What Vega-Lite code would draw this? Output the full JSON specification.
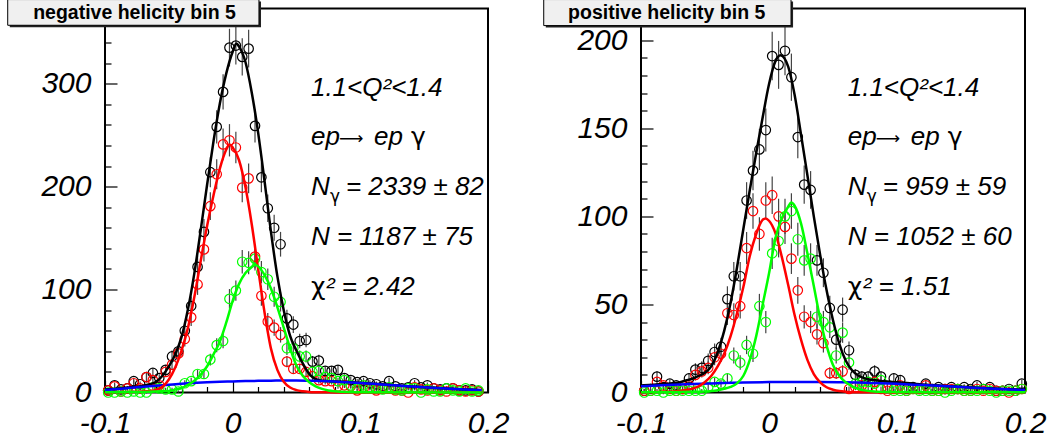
{
"$schema": "https://vega.github.io/schema/vega-lite/v6.json",
"background": "white",
"padding": {"left": 6, "top": -2.5, "right": 0, "bottom": 0},
"spacing": 32,
"config": {"view": {"stroke": "#000", "strokeWidth": 2}, "font": "Liberation Sans"},
"datasets": {
"pts": [
{"p":"L","s":"k","x":-0.0975,"y":2,"e":1.4},{"p":"L","s":"k","x":-0.0925,"y":7,"e":2.6},{"p":"L","s":"k","x":-0.0875,"y":3,"e":1.7},{"p":"L","s":"k","x":-0.0825,"y":4,"e":2},{"p":"L","s":"k","x":-0.0775,"y":11,"e":3.3},{"p":"L","s":"k","x":-0.0725,"y":8,"e":2.8},{"p":"L","s":"k","x":-0.0675,"y":15,"e":3.9},{"p":"L","s":"k","x":-0.0625,"y":19,"e":4.4},{"p":"L","s":"k","x":-0.0575,"y":14,"e":3.7},{"p":"L","s":"k","x":-0.0525,"y":22,"e":4.7},
{"p":"L","s":"k","x":-0.0475,"y":35,"e":5.9},{"p":"L","s":"k","x":-0.0425,"y":40,"e":6.3},{"p":"L","s":"k","x":-0.0375,"y":60,"e":7.7},{"p":"L","s":"k","x":-0.0325,"y":84,"e":9.2},{"p":"L","s":"k","x":-0.0275,"y":122,"e":11},{"p":"L","s":"k","x":-0.0225,"y":156,"e":12.5},{"p":"L","s":"k","x":-0.0175,"y":214,"e":14.6},{"p":"L","s":"k","x":-0.0125,"y":258,"e":16.1},{"p":"L","s":"k","x":-0.0075,"y":292,"e":17.1},{"p":"L","s":"k","x":-0.0025,"y":335,"e":18.3},
{"p":"L","s":"k","x":0.0025,"y":337,"e":18.4},{"p":"L","s":"k","x":0.0075,"y":326,"e":18.1},{"p":"L","s":"k","x":0.0125,"y":334,"e":18.3},{"p":"L","s":"k","x":0.0175,"y":259,"e":16.1},{"p":"L","s":"k","x":0.0225,"y":209,"e":14.5},{"p":"L","s":"k","x":0.0275,"y":179,"e":13.4},{"p":"L","s":"k","x":0.0325,"y":160,"e":12.6},{"p":"L","s":"k","x":0.0375,"y":144,"e":12},{"p":"L","s":"k","x":0.0425,"y":72,"e":8.5},{"p":"L","s":"k","x":0.0475,"y":66,"e":8.1},
{"p":"L","s":"k","x":0.0525,"y":50,"e":7.1},{"p":"L","s":"k","x":0.0575,"y":51,"e":7.1},{"p":"L","s":"k","x":0.0625,"y":30,"e":5.5},{"p":"L","s":"k","x":0.0675,"y":31,"e":5.6},{"p":"L","s":"k","x":0.0725,"y":21,"e":4.6},{"p":"L","s":"k","x":0.0775,"y":21,"e":4.6},{"p":"L","s":"k","x":0.0825,"y":22,"e":4.7},{"p":"L","s":"k","x":0.0875,"y":14,"e":3.7},{"p":"L","s":"k","x":0.0925,"y":12,"e":3.5},{"p":"L","s":"k","x":0.0975,"y":10,"e":3.2},
{"p":"L","s":"k","x":0.1025,"y":11,"e":3.3},{"p":"L","s":"k","x":0.1075,"y":9,"e":3},{"p":"L","s":"k","x":0.1125,"y":8,"e":2.8},{"p":"L","s":"k","x":0.1175,"y":6,"e":2.4},{"p":"L","s":"k","x":0.1225,"y":11,"e":3.3},{"p":"L","s":"k","x":0.1275,"y":6,"e":2.4},{"p":"L","s":"k","x":0.1325,"y":4,"e":2},{"p":"L","s":"k","x":0.1375,"y":5,"e":2.2},{"p":"L","s":"k","x":0.1425,"y":9,"e":3},{"p":"L","s":"k","x":0.1475,"y":5,"e":2.2},
{"p":"L","s":"k","x":0.1525,"y":7,"e":2.6},{"p":"L","s":"k","x":0.1575,"y":4,"e":2},{"p":"L","s":"k","x":0.1625,"y":3,"e":1.7},{"p":"L","s":"k","x":0.1675,"y":4,"e":2},{"p":"L","s":"k","x":0.1725,"y":4,"e":2},{"p":"L","s":"k","x":0.1775,"y":2,"e":1.4},{"p":"L","s":"k","x":0.1825,"y":2,"e":1.4},{"p":"L","s":"k","x":0.1875,"y":3,"e":1.7},{"p":"L","s":"k","x":0.1925,"y":1,"e":1},
{"p":"L","s":"r","x":-0.0975,"y":2,"e":1.4},{"p":"L","s":"r","x":-0.0925,"y":6,"e":2.4},{"p":"L","s":"r","x":-0.0875,"y":1,"e":1},{"p":"L","s":"r","x":-0.0825,"y":4,"e":2},{"p":"L","s":"r","x":-0.0775,"y":9,"e":3},{"p":"L","s":"r","x":-0.0725,"y":4,"e":2},{"p":"L","s":"r","x":-0.0675,"y":15,"e":3.9},{"p":"L","s":"r","x":-0.0625,"y":12,"e":3.5},{"p":"L","s":"r","x":-0.0575,"y":7,"e":2.6},{"p":"L","s":"r","x":-0.0525,"y":20,"e":4.5},
{"p":"L","s":"r","x":-0.0475,"y":27,"e":5.2},{"p":"L","s":"r","x":-0.0425,"y":38,"e":6.2},{"p":"L","s":"r","x":-0.0375,"y":52,"e":7.2},{"p":"L","s":"r","x":-0.0325,"y":73,"e":8.5},{"p":"L","s":"r","x":-0.0275,"y":105,"e":10.2},{"p":"L","s":"r","x":-0.0225,"y":139,"e":11.8},{"p":"L","s":"r","x":-0.0175,"y":181,"e":13.5},{"p":"L","s":"r","x":-0.0125,"y":212,"e":14.6},{"p":"L","s":"r","x":-0.0075,"y":241,"e":15.5},{"p":"L","s":"r","x":-0.0025,"y":245,"e":15.7},
{"p":"L","s":"r","x":0.0025,"y":238,"e":15.4},{"p":"L","s":"r","x":0.0075,"y":199,"e":14.1},{"p":"L","s":"r","x":0.0125,"y":208,"e":14.4},{"p":"L","s":"r","x":0.0175,"y":132,"e":11.5},{"p":"L","s":"r","x":0.0225,"y":94,"e":9.7},{"p":"L","s":"r","x":0.0275,"y":69,"e":8.3},{"p":"L","s":"r","x":0.0325,"y":63,"e":7.9},{"p":"L","s":"r","x":0.0375,"y":56,"e":7.5},{"p":"L","s":"r","x":0.0425,"y":30,"e":5.5},{"p":"L","s":"r","x":0.0475,"y":23,"e":4.8},
{"p":"L","s":"r","x":0.0525,"y":23,"e":4.8},{"p":"L","s":"r","x":0.0575,"y":20,"e":4.5},{"p":"L","s":"r","x":0.0625,"y":16,"e":4},{"p":"L","s":"r","x":0.0675,"y":12,"e":3.5},{"p":"L","s":"r","x":0.0725,"y":11,"e":3.3},{"p":"L","s":"r","x":0.0775,"y":11,"e":3.3},{"p":"L","s":"r","x":0.0825,"y":6,"e":2.4},{"p":"L","s":"r","x":0.0875,"y":7,"e":2.6},{"p":"L","s":"r","x":0.0925,"y":6,"e":2.4},{"p":"L","s":"r","x":0.0975,"y":2,"e":1.4},
{"p":"L","s":"r","x":0.1025,"y":4,"e":2},{"p":"L","s":"r","x":0.1075,"y":4,"e":2},{"p":"L","s":"r","x":0.1125,"y":2,"e":1.4},{"p":"L","s":"r","x":0.1175,"y":4,"e":2},{"p":"L","s":"r","x":0.1225,"y":4,"e":2},{"p":"L","s":"r","x":0.1275,"y":2,"e":1.4},{"p":"L","s":"r","x":0.1325,"y":2,"e":1.4},{"p":"L","s":"r","x":0.1375,"y":0,"e":0},{"p":"L","s":"r","x":0.1425,"y":5,"e":2.2},{"p":"L","s":"r","x":0.1475,"y":3,"e":1.7},
{"p":"L","s":"r","x":0.1525,"y":2,"e":1.4},{"p":"L","s":"r","x":0.1575,"y":4,"e":2},{"p":"L","s":"r","x":0.1625,"y":2,"e":1.4},{"p":"L","s":"r","x":0.1675,"y":1,"e":1},{"p":"L","s":"r","x":0.1725,"y":4,"e":2},{"p":"L","s":"r","x":0.1775,"y":2,"e":1.4},{"p":"L","s":"r","x":0.1825,"y":1,"e":1},{"p":"L","s":"r","x":0.1875,"y":2,"e":1.4},{"p":"L","s":"r","x":0.1925,"y":1,"e":1},
{"p":"L","s":"g","x":-0.0975,"y":0,"e":1},{"p":"L","s":"g","x":-0.0925,"y":0,"e":1},{"p":"L","s":"g","x":-0.0875,"y":1,"e":1},{"p":"L","s":"g","x":-0.0825,"y":0,"e":1},{"p":"L","s":"g","x":-0.0775,"y":1,"e":1},{"p":"L","s":"g","x":-0.0725,"y":0,"e":1},{"p":"L","s":"g","x":-0.0675,"y":0,"e":1},{"p":"L","s":"g","x":-0.0625,"y":5,"e":2.2},{"p":"L","s":"g","x":-0.0575,"y":4,"e":2},{"p":"L","s":"g","x":-0.0525,"y":3,"e":1.7},
{"p":"L","s":"g","x":-0.0475,"y":3,"e":1.7},{"p":"L","s":"g","x":-0.0425,"y":1,"e":1},{"p":"L","s":"g","x":-0.0375,"y":9,"e":3},{"p":"L","s":"g","x":-0.0325,"y":11,"e":3.3},{"p":"L","s":"g","x":-0.0275,"y":18,"e":4.2},{"p":"L","s":"g","x":-0.0225,"y":18,"e":4.2},{"p":"L","s":"g","x":-0.0175,"y":32,"e":5.7},{"p":"L","s":"g","x":-0.0125,"y":46,"e":6.8},{"p":"L","s":"g","x":-0.0075,"y":50,"e":7.1},{"p":"L","s":"g","x":-0.0025,"y":91,"e":9.5},
{"p":"L","s":"g","x":0.0025,"y":99,"e":9.9},{"p":"L","s":"g","x":0.0075,"y":127,"e":11.3},{"p":"L","s":"g","x":0.0125,"y":126,"e":11.2},{"p":"L","s":"g","x":0.0175,"y":130,"e":11.4},{"p":"L","s":"g","x":0.0225,"y":117,"e":10.8},{"p":"L","s":"g","x":0.0275,"y":110,"e":10.5},{"p":"L","s":"g","x":0.0325,"y":93,"e":9.6},{"p":"L","s":"g","x":0.0375,"y":88,"e":9.4},{"p":"L","s":"g","x":0.0425,"y":43,"e":6.6},{"p":"L","s":"g","x":0.0475,"y":43,"e":6.6},
{"p":"L","s":"g","x":0.0525,"y":35,"e":5.9},{"p":"L","s":"g","x":0.0575,"y":35,"e":5.9},{"p":"L","s":"g","x":0.0625,"y":20,"e":4.5},{"p":"L","s":"g","x":0.0675,"y":21,"e":4.6},{"p":"L","s":"g","x":0.0725,"y":15,"e":3.9},{"p":"L","s":"g","x":0.0775,"y":14,"e":3.7},{"p":"L","s":"g","x":0.0825,"y":11,"e":3.3},{"p":"L","s":"g","x":0.0875,"y":12,"e":3.5},{"p":"L","s":"g","x":0.0925,"y":7,"e":2.6},{"p":"L","s":"g","x":0.0975,"y":4,"e":2},
{"p":"L","s":"g","x":0.1025,"y":7,"e":2.6},{"p":"L","s":"g","x":0.1075,"y":5,"e":2.2},{"p":"L","s":"g","x":0.1125,"y":4,"e":2},{"p":"L","s":"g","x":0.1175,"y":3,"e":1.7},{"p":"L","s":"g","x":0.1225,"y":5,"e":2.2},{"p":"L","s":"g","x":0.1275,"y":3,"e":1.7},{"p":"L","s":"g","x":0.1325,"y":2,"e":1.4},{"p":"L","s":"g","x":0.1375,"y":4,"e":2},{"p":"L","s":"g","x":0.1425,"y":4,"e":2},{"p":"L","s":"g","x":0.1475,"y":0,"e":1},
{"p":"L","s":"g","x":0.1525,"y":3,"e":1.7},{"p":"L","s":"g","x":0.1575,"y":1,"e":1},{"p":"L","s":"g","x":0.1625,"y":1,"e":1},{"p":"L","s":"g","x":0.1675,"y":4,"e":2},{"p":"L","s":"g","x":0.1725,"y":2,"e":1.4},{"p":"L","s":"g","x":0.1775,"y":1,"e":1},{"p":"L","s":"g","x":0.1825,"y":4,"e":2},{"p":"L","s":"g","x":0.1875,"y":1,"e":1},{"p":"L","s":"g","x":0.1925,"y":2,"e":1.4},
{"p":"R","s":"k","x":-0.0975,"y":1,"e":1},{"p":"R","s":"k","x":-0.0925,"y":2,"e":1.4},{"p":"R","s":"k","x":-0.0875,"y":9,"e":3},{"p":"R","s":"k","x":-0.0825,"y":3,"e":1.7},{"p":"R","s":"k","x":-0.0775,"y":5,"e":2.2},{"p":"R","s":"k","x":-0.0725,"y":4,"e":2},{"p":"R","s":"k","x":-0.0675,"y":2,"e":1.4},{"p":"R","s":"k","x":-0.0625,"y":8,"e":2.8},{"p":"R","s":"k","x":-0.0575,"y":13,"e":3.6},{"p":"R","s":"k","x":-0.0525,"y":14,"e":3.7},
{"p":"R","s":"k","x":-0.0475,"y":18,"e":4.2},{"p":"R","s":"k","x":-0.0425,"y":23,"e":4.8},{"p":"R","s":"k","x":-0.0375,"y":26,"e":5.1},{"p":"R","s":"k","x":-0.0325,"y":53,"e":7.3},{"p":"R","s":"k","x":-0.0275,"y":66,"e":8.1},{"p":"R","s":"k","x":-0.0225,"y":66,"e":8.1},{"p":"R","s":"k","x":-0.0175,"y":109,"e":10.4},{"p":"R","s":"k","x":-0.0125,"y":126,"e":11.2},{"p":"R","s":"k","x":-0.0075,"y":138,"e":11.7},{"p":"R","s":"k","x":-0.0025,"y":149,"e":12.2},
{"p":"R","s":"k","x":0.0025,"y":191,"e":13.8},{"p":"R","s":"k","x":0.0075,"y":186,"e":13.6},{"p":"R","s":"k","x":0.0125,"y":194,"e":13.9},{"p":"R","s":"k","x":0.0175,"y":179,"e":13.4},{"p":"R","s":"k","x":0.0225,"y":145,"e":12},{"p":"R","s":"k","x":0.0275,"y":118,"e":10.9},{"p":"R","s":"k","x":0.0325,"y":115,"e":10.7},{"p":"R","s":"k","x":0.0375,"y":75,"e":8.7},{"p":"R","s":"k","x":0.0425,"y":68,"e":8.2},{"p":"R","s":"k","x":0.0475,"y":48,"e":6.9},
{"p":"R","s":"k","x":0.0525,"y":30,"e":5.5},{"p":"R","s":"k","x":0.0575,"y":47,"e":6.9},{"p":"R","s":"k","x":0.0625,"y":24,"e":4.9},{"p":"R","s":"k","x":0.0675,"y":10,"e":3.2},{"p":"R","s":"k","x":0.0725,"y":9,"e":3},{"p":"R","s":"k","x":0.0775,"y":9,"e":3},{"p":"R","s":"k","x":0.0825,"y":12,"e":3.5},{"p":"R","s":"k","x":0.0875,"y":9,"e":3},{"p":"R","s":"k","x":0.0925,"y":3,"e":1.7},{"p":"R","s":"k","x":0.0975,"y":8,"e":2.8},
{"p":"R","s":"k","x":0.1025,"y":7,"e":2.6},{"p":"R","s":"k","x":0.1075,"y":2,"e":1.4},{"p":"R","s":"k","x":0.1125,"y":3,"e":1.7},{"p":"R","s":"k","x":0.1175,"y":2,"e":1.4},{"p":"R","s":"k","x":0.1225,"y":5,"e":2.2},{"p":"R","s":"k","x":0.1275,"y":2,"e":1.4},{"p":"R","s":"k","x":0.1325,"y":3,"e":1.7},{"p":"R","s":"k","x":0.1375,"y":2,"e":1.4},{"p":"R","s":"k","x":0.1425,"y":3,"e":1.7},{"p":"R","s":"k","x":0.1475,"y":2,"e":1.4},
{"p":"R","s":"k","x":0.1525,"y":3,"e":1.7},{"p":"R","s":"k","x":0.1575,"y":2,"e":1.4},{"p":"R","s":"k","x":0.1625,"y":4,"e":2},{"p":"R","s":"k","x":0.1675,"y":2,"e":1.4},{"p":"R","s":"k","x":0.1725,"y":3,"e":1.7},{"p":"R","s":"k","x":0.1775,"y":1,"e":1},{"p":"R","s":"k","x":0.1825,"y":1,"e":1},{"p":"R","s":"k","x":0.1875,"y":2,"e":1.4},{"p":"R","s":"k","x":0.1925,"y":1,"e":1},{"p":"R","s":"k","x":0.1975,"y":5,"e":2.2},
{"p":"R","s":"r","x":-0.0975,"y":1,"e":1},{"p":"R","s":"r","x":-0.0925,"y":1,"e":1},{"p":"R","s":"r","x":-0.0875,"y":6,"e":2.4},{"p":"R","s":"r","x":-0.0825,"y":4,"e":2},{"p":"R","s":"r","x":-0.0775,"y":2,"e":1.4},{"p":"R","s":"r","x":-0.0725,"y":1,"e":1},{"p":"R","s":"r","x":-0.0675,"y":2,"e":1.4},{"p":"R","s":"r","x":-0.0625,"y":4,"e":2},{"p":"R","s":"r","x":-0.0575,"y":10,"e":3.2},{"p":"R","s":"r","x":-0.0525,"y":12,"e":3.5},
{"p":"R","s":"r","x":-0.0475,"y":14,"e":3.7},{"p":"R","s":"r","x":-0.0425,"y":20,"e":4.5},{"p":"R","s":"r","x":-0.0375,"y":22,"e":4.7},{"p":"R","s":"r","x":-0.0325,"y":45,"e":6.7},{"p":"R","s":"r","x":-0.0275,"y":44,"e":6.6},{"p":"R","s":"r","x":-0.0225,"y":49,"e":7},{"p":"R","s":"r","x":-0.0175,"y":82,"e":9.1},{"p":"R","s":"r","x":-0.0125,"y":103,"e":10.1},{"p":"R","s":"r","x":-0.0075,"y":90,"e":9.5},{"p":"R","s":"r","x":-0.0025,"y":109,"e":10.4},
{"p":"R","s":"r","x":0.0025,"y":112,"e":10.6},{"p":"R","s":"r","x":0.0075,"y":100,"e":10},{"p":"R","s":"r","x":0.0125,"y":94,"e":9.7},{"p":"R","s":"r","x":0.0175,"y":76,"e":8.7},{"p":"R","s":"r","x":0.0225,"y":58,"e":7.6},{"p":"R","s":"r","x":0.0275,"y":43,"e":6.6},{"p":"R","s":"r","x":0.0325,"y":40,"e":6.3},{"p":"R","s":"r","x":0.0375,"y":33,"e":5.7},{"p":"R","s":"r","x":0.0425,"y":28,"e":5.3},{"p":"R","s":"r","x":0.0475,"y":11,"e":3.3},
{"p":"R","s":"r","x":0.0525,"y":11,"e":3.3},{"p":"R","s":"r","x":0.0575,"y":12,"e":3.5},{"p":"R","s":"r","x":0.0625,"y":2,"e":1.4},{"p":"R","s":"r","x":0.0675,"y":3,"e":1.7},{"p":"R","s":"r","x":0.0725,"y":4,"e":2},{"p":"R","s":"r","x":0.0775,"y":3,"e":1.7},{"p":"R","s":"r","x":0.0825,"y":6,"e":2.4},{"p":"R","s":"r","x":0.0875,"y":2,"e":1.4},{"p":"R","s":"r","x":0.0925,"y":1,"e":1},{"p":"R","s":"r","x":0.0975,"y":2,"e":1.4},
{"p":"R","s":"r","x":0.1025,"y":4,"e":2},{"p":"R","s":"r","x":0.1075,"y":1,"e":1},{"p":"R","s":"r","x":0.1125,"y":2,"e":1.4},{"p":"R","s":"r","x":0.1175,"y":2,"e":1.4},{"p":"R","s":"r","x":0.1225,"y":4,"e":2},{"p":"R","s":"r","x":0.1275,"y":1,"e":1},{"p":"R","s":"r","x":0.1325,"y":1,"e":1},{"p":"R","s":"r","x":0.1375,"y":2,"e":1.4},{"p":"R","s":"r","x":0.1425,"y":2,"e":1.4},{"p":"R","s":"r","x":0.1475,"y":2,"e":1.4},
{"p":"R","s":"r","x":0.1525,"y":1,"e":1},{"p":"R","s":"r","x":0.1575,"y":1,"e":1},{"p":"R","s":"r","x":0.1625,"y":2,"e":1.4},{"p":"R","s":"r","x":0.1675,"y":1,"e":1},{"p":"R","s":"r","x":0.1725,"y":2,"e":1.4},{"p":"R","s":"r","x":0.1775,"y":1,"e":1},{"p":"R","s":"r","x":0.1825,"y":1,"e":1},{"p":"R","s":"r","x":0.1875,"y":0,"e":0},{"p":"R","s":"r","x":0.1925,"y":1,"e":1},{"p":"R","s":"r","x":0.1975,"y":2,"e":1.4},
{"p":"R","s":"g","x":-0.0975,"y":0,"e":1},{"p":"R","s":"g","x":-0.0925,"y":1,"e":1},{"p":"R","s":"g","x":-0.0875,"y":1,"e":1},{"p":"R","s":"g","x":-0.0825,"y":0,"e":1},{"p":"R","s":"g","x":-0.0775,"y":1,"e":1},{"p":"R","s":"g","x":-0.0725,"y":1,"e":1},{"p":"R","s":"g","x":-0.0675,"y":1,"e":1},{"p":"R","s":"g","x":-0.0625,"y":1,"e":1},{"p":"R","s":"g","x":-0.0575,"y":1,"e":1},{"p":"R","s":"g","x":-0.0525,"y":1,"e":1},
{"p":"R","s":"g","x":-0.0475,"y":3,"e":1.7},{"p":"R","s":"g","x":-0.0425,"y":6,"e":2.4},{"p":"R","s":"g","x":-0.0375,"y":5,"e":2.2},{"p":"R","s":"g","x":-0.0325,"y":8,"e":2.8},{"p":"R","s":"g","x":-0.0275,"y":21,"e":4.6},{"p":"R","s":"g","x":-0.0225,"y":17,"e":4.1},{"p":"R","s":"g","x":-0.0175,"y":27,"e":5.2},{"p":"R","s":"g","x":-0.0125,"y":22,"e":4.7},{"p":"R","s":"g","x":-0.0075,"y":49,"e":7},{"p":"R","s":"g","x":-0.0025,"y":40,"e":6.3},
{"p":"R","s":"g","x":0.0025,"y":79,"e":8.9},{"p":"R","s":"g","x":0.0075,"y":86,"e":9.3},{"p":"R","s":"g","x":0.0125,"y":100,"e":10},{"p":"R","s":"g","x":0.0175,"y":103,"e":10.1},{"p":"R","s":"g","x":0.0225,"y":87,"e":9.3},{"p":"R","s":"g","x":0.0275,"y":75,"e":8.7},{"p":"R","s":"g","x":0.0325,"y":76,"e":8.7},{"p":"R","s":"g","x":0.0375,"y":43,"e":6.6},{"p":"R","s":"g","x":0.0425,"y":40,"e":6.3},{"p":"R","s":"g","x":0.0475,"y":37,"e":6.1},
{"p":"R","s":"g","x":0.0525,"y":21,"e":4.6},{"p":"R","s":"g","x":0.0575,"y":34,"e":5.8},{"p":"R","s":"g","x":0.0625,"y":17,"e":4.1},{"p":"R","s":"g","x":0.0675,"y":5,"e":2.2},{"p":"R","s":"g","x":0.0725,"y":6,"e":2.4},{"p":"R","s":"g","x":0.0775,"y":6,"e":2.4},{"p":"R","s":"g","x":0.0825,"y":5,"e":2.2},{"p":"R","s":"g","x":0.0875,"y":7,"e":2.6},{"p":"R","s":"g","x":0.0925,"y":3,"e":1.7},{"p":"R","s":"g","x":0.0975,"y":1,"e":1},
{"p":"R","s":"g","x":0.1025,"y":1,"e":1},{"p":"R","s":"g","x":0.1075,"y":1,"e":1},{"p":"R","s":"g","x":0.1125,"y":2,"e":1.4},{"p":"R","s":"g","x":0.1175,"y":1,"e":1},{"p":"R","s":"g","x":0.1225,"y":1,"e":1},{"p":"R","s":"g","x":0.1275,"y":1,"e":1},{"p":"R","s":"g","x":0.1325,"y":1,"e":1},{"p":"R","s":"g","x":0.1375,"y":0,"e":1},{"p":"R","s":"g","x":0.1425,"y":1,"e":1},{"p":"R","s":"g","x":0.1475,"y":2,"e":1.4},
{"p":"R","s":"g","x":0.1525,"y":1,"e":1},{"p":"R","s":"g","x":0.1575,"y":1,"e":1},{"p":"R","s":"g","x":0.1625,"y":1,"e":1},{"p":"R","s":"g","x":0.1675,"y":2,"e":1.4},{"p":"R","s":"g","x":0.1725,"y":1,"e":1},{"p":"R","s":"g","x":0.1775,"y":0,"e":1},{"p":"R","s":"g","x":0.1825,"y":1,"e":1},{"p":"R","s":"g","x":0.1875,"y":1,"e":1},{"p":"R","s":"g","x":0.1925,"y":1,"e":1},{"p":"R","s":"g","x":0.1975,"y":2,"e":1.4}
],
"crv": [
{"p":"L","c":"k","x":-0.1,"y":2.8},{"p":"L","c":"k","x":-0.095,"y":3.3},{"p":"L","c":"k","x":-0.09,"y":3.8},{"p":"L","c":"k","x":-0.085,"y":4.4},{"p":"L","c":"k","x":-0.08,"y":5.0},{"p":"L","c":"k","x":-0.075,"y":5.6},{"p":"L","c":"k","x":-0.07,"y":6.5},{"p":"L","c":"k","x":-0.065,"y":8},{"p":"L","c":"k","x":-0.06,"y":10.3},{"p":"L","c":"k","x":-0.055,"y":16.2},{"p":"L","c":"k","x":-0.05,"y":25.3},{"p":"L","c":"k","x":-0.045,"y":37},{"p":"L","c":"k","x":-0.04,"y":54},{"p":"L","c":"k","x":-0.035,"y":81},{"p":"L","c":"k","x":-0.03,"y":116},{"p":"L","c":"k","x":-0.025,"y":158},{"p":"L","c":"k","x":-0.02,"y":202},{"p":"L","c":"k","x":-0.015,"y":244},{"p":"L","c":"k","x":-0.01,"y":281},{"p":"L","c":"k","x":-0.005,"y":310},{"p":"L","c":"k","x":0,"y":331},{"p":"L","c":"k","x":0.003,"y":339},{"p":"L","c":"k","x":0.005,"y":336},{"p":"L","c":"k","x":0.01,"y":321},{"p":"L","c":"k","x":0.015,"y":291},{"p":"L","c":"k","x":0.02,"y":252},{"p":"L","c":"k","x":0.025,"y":205},{"p":"L","c":"k","x":0.03,"y":156},{"p":"L","c":"k","x":0.035,"y":113},{"p":"L","c":"k","x":0.04,"y":80},{"p":"L","c":"k","x":0.045,"y":55},{"p":"L","c":"k","x":0.05,"y":40.5},{"p":"L","c":"k","x":0.055,"y":28},{"p":"L","c":"k","x":0.06,"y":18},{"p":"L","c":"k","x":0.065,"y":13},{"p":"L","c":"k","x":0.07,"y":11.5},{"p":"L","c":"k","x":0.08,"y":10.8},{"p":"L","c":"k","x":0.09,"y":10.1},{"p":"L","c":"k","x":0.1,"y":9.3},{"p":"L","c":"k","x":0.11,"y":8.5},{"p":"L","c":"k","x":0.12,"y":7.7},{"p":"L","c":"k","x":0.13,"y":6.8},{"p":"L","c":"k","x":0.14,"y":5.9},{"p":"L","c":"k","x":0.15,"y":5.1},{"p":"L","c":"k","x":0.16,"y":4.4},{"p":"L","c":"k","x":0.17,"y":3.7},{"p":"L","c":"k","x":0.18,"y":3.1},{"p":"L","c":"k","x":0.19,"y":2.6},{"p":"L","c":"k","x":0.195,"y":2.4},
{"p":"L","c":"b","x":-0.1,"y":2.5},{"p":"L","c":"b","x":-0.09,"y":3.5},{"p":"L","c":"b","x":-0.08,"y":4.5},{"p":"L","c":"b","x":-0.07,"y":5.5},{"p":"L","c":"b","x":-0.06,"y":6.5},{"p":"L","c":"b","x":-0.05,"y":7.5},{"p":"L","c":"b","x":-0.04,"y":8.5},{"p":"L","c":"b","x":-0.03,"y":9.3},{"p":"L","c":"b","x":-0.02,"y":10},{"p":"L","c":"b","x":-0.01,"y":10.5},{"p":"L","c":"b","x":0,"y":10.8},{"p":"L","c":"b","x":0.01,"y":11.1},{"p":"L","c":"b","x":0.02,"y":11.3},{"p":"L","c":"b","x":0.03,"y":11.5},{"p":"L","c":"b","x":0.04,"y":11.6},{"p":"L","c":"b","x":0.05,"y":11.6},{"p":"L","c":"b","x":0.06,"y":11.4},{"p":"L","c":"b","x":0.07,"y":11.1},{"p":"L","c":"b","x":0.08,"y":10.6},{"p":"L","c":"b","x":0.09,"y":10.0},{"p":"L","c":"b","x":0.1,"y":9.2},{"p":"L","c":"b","x":0.11,"y":8.4},{"p":"L","c":"b","x":0.12,"y":7.6},{"p":"L","c":"b","x":0.13,"y":6.7},{"p":"L","c":"b","x":0.14,"y":5.8},{"p":"L","c":"b","x":0.15,"y":5.0},{"p":"L","c":"b","x":0.16,"y":4.3},{"p":"L","c":"b","x":0.17,"y":3.6},{"p":"L","c":"b","x":0.18,"y":3.0},{"p":"L","c":"b","x":0.19,"y":2.5},{"p":"L","c":"b","x":0.195,"y":2.3},
{"p":"L","c":"r","x":-0.1,"y":0.1},{"p":"L","c":"r","x":-0.09,"y":0.2},{"p":"L","c":"r","x":-0.08,"y":0.4},{"p":"L","c":"r","x":-0.07,"y":0.9},{"p":"L","c":"r","x":-0.065,"y":1.5},{"p":"L","c":"r","x":-0.06,"y":2.6},{"p":"L","c":"r","x":-0.055,"y":5.5},{"p":"L","c":"r","x":-0.05,"y":12.6},{"p":"L","c":"r","x":-0.045,"y":24.3},{"p":"L","c":"r","x":-0.04,"y":41},{"p":"L","c":"r","x":-0.035,"y":63},{"p":"L","c":"r","x":-0.03,"y":93},{"p":"L","c":"r","x":-0.025,"y":128},{"p":"L","c":"r","x":-0.02,"y":162},{"p":"L","c":"r","x":-0.015,"y":191.6},{"p":"L","c":"r","x":-0.01,"y":217.7},{"p":"L","c":"r","x":-0.005,"y":236},{"p":"L","c":"r","x":-0.0025,"y":241},{"p":"L","c":"r","x":0,"y":238},{"p":"L","c":"r","x":0.005,"y":225.6},{"p":"L","c":"r","x":0.01,"y":199.5},{"p":"L","c":"r","x":0.015,"y":163},{"p":"L","c":"r","x":0.02,"y":119.6},{"p":"L","c":"r","x":0.025,"y":77.5},{"p":"L","c":"r","x":0.03,"y":42.6},{"p":"L","c":"r","x":0.035,"y":22},{"p":"L","c":"r","x":0.04,"y":10.4},{"p":"L","c":"r","x":0.045,"y":4.8},{"p":"L","c":"r","x":0.05,"y":2.3},{"p":"L","c":"r","x":0.055,"y":1.2},{"p":"L","c":"r","x":0.06,"y":0.6},{"p":"L","c":"r","x":0.07,"y":0.2},{"p":"L","c":"r","x":0.08,"y":0.1},{"p":"L","c":"r","x":0.1,"y":0},{"p":"L","c":"r","x":0.195,"y":0},
{"p":"L","c":"g","x":-0.1,"y":0.2},{"p":"L","c":"g","x":-0.09,"y":0.3},{"p":"L","c":"g","x":-0.08,"y":0.4},{"p":"L","c":"g","x":-0.07,"y":0.6},{"p":"L","c":"g","x":-0.06,"y":1.0},{"p":"L","c":"g","x":-0.055,"y":1.2},{"p":"L","c":"g","x":-0.05,"y":1.5},{"p":"L","c":"g","x":-0.045,"y":2.8},{"p":"L","c":"g","x":-0.04,"y":4.4},{"p":"L","c":"g","x":-0.035,"y":7.5},{"p":"L","c":"g","x":-0.03,"y":11.5},{"p":"L","c":"g","x":-0.025,"y":17.5},{"p":"L","c":"g","x":-0.02,"y":25.5},{"p":"L","c":"g","x":-0.015,"y":37},{"p":"L","c":"g","x":-0.01,"y":49.5},{"p":"L","c":"g","x":-0.005,"y":68},{"p":"L","c":"g","x":0,"y":89},{"p":"L","c":"g","x":0.005,"y":105.5},{"p":"L","c":"g","x":0.01,"y":116},{"p":"L","c":"g","x":0.015,"y":122},{"p":"L","c":"g","x":0.0175,"y":124},{"p":"L","c":"g","x":0.02,"y":122.5},{"p":"L","c":"g","x":0.025,"y":114},{"p":"L","c":"g","x":0.03,"y":101},{"p":"L","c":"g","x":0.035,"y":83},{"p":"L","c":"g","x":0.04,"y":63},{"p":"L","c":"g","x":0.045,"y":43},{"p":"L","c":"g","x":0.05,"y":26},{"p":"L","c":"g","x":0.055,"y":16},{"p":"L","c":"g","x":0.06,"y":10},{"p":"L","c":"g","x":0.065,"y":6},{"p":"L","c":"g","x":0.07,"y":3.5},{"p":"L","c":"g","x":0.075,"y":2},{"p":"L","c":"g","x":0.08,"y":1.2},{"p":"L","c":"g","x":0.09,"y":0.5},{"p":"L","c":"g","x":0.1,"y":0.3},{"p":"L","c":"g","x":0.195,"y":0.1},
{"p":"R","c":"k","x":-0.1,"y":4.0},{"p":"R","c":"k","x":-0.09,"y":4.4},{"p":"R","c":"k","x":-0.08,"y":4.9},{"p":"R","c":"k","x":-0.07,"y":5.7},{"p":"R","c":"k","x":-0.065,"y":6.8},{"p":"R","c":"k","x":-0.06,"y":7.8},{"p":"R","c":"k","x":-0.055,"y":9.4},{"p":"R","c":"k","x":-0.05,"y":11.2},{"p":"R","c":"k","x":-0.045,"y":15},{"p":"R","c":"k","x":-0.04,"y":23},{"p":"R","c":"k","x":-0.035,"y":35},{"p":"R","c":"k","x":-0.03,"y":51},{"p":"R","c":"k","x":-0.025,"y":71},{"p":"R","c":"k","x":-0.02,"y":93},{"p":"R","c":"k","x":-0.015,"y":115},{"p":"R","c":"k","x":-0.01,"y":136},{"p":"R","c":"k","x":-0.005,"y":156},{"p":"R","c":"k","x":0,"y":175},{"p":"R","c":"k","x":0.005,"y":188},{"p":"R","c":"k","x":0.009,"y":191.5},{"p":"R","c":"k","x":0.015,"y":185},{"p":"R","c":"k","x":0.02,"y":169},{"p":"R","c":"k","x":0.025,"y":146.5},{"p":"R","c":"k","x":0.03,"y":123.3},{"p":"R","c":"k","x":0.035,"y":100},{"p":"R","c":"k","x":0.04,"y":78},{"p":"R","c":"k","x":0.045,"y":58},{"p":"R","c":"k","x":0.05,"y":41},{"p":"R","c":"k","x":0.055,"y":27.5},{"p":"R","c":"k","x":0.06,"y":18},{"p":"R","c":"k","x":0.065,"y":12.5},{"p":"R","c":"k","x":0.07,"y":9.5},{"p":"R","c":"k","x":0.075,"y":8},{"p":"R","c":"k","x":0.08,"y":7.2},{"p":"R","c":"k","x":0.09,"y":6.4},{"p":"R","c":"k","x":0.1,"y":5.8},{"p":"R","c":"k","x":0.11,"y":5.2},{"p":"R","c":"k","x":0.12,"y":4.6},{"p":"R","c":"k","x":0.13,"y":4.1},{"p":"R","c":"k","x":0.14,"y":3.6},{"p":"R","c":"k","x":0.15,"y":3.2},{"p":"R","c":"k","x":0.16,"y":2.8},{"p":"R","c":"k","x":0.17,"y":2.4},{"p":"R","c":"k","x":0.18,"y":2.1},{"p":"R","c":"k","x":0.19,"y":1.8},{"p":"R","c":"k","x":0.2,"y":1.5},
{"p":"R","c":"b","x":-0.1,"y":3.5},{"p":"R","c":"b","x":-0.08,"y":4.2},{"p":"R","c":"b","x":-0.06,"y":4.8},{"p":"R","c":"b","x":-0.04,"y":5.3},{"p":"R","c":"b","x":-0.02,"y":5.7},{"p":"R","c":"b","x":0,"y":5.9},{"p":"R","c":"b","x":0.02,"y":6.0},{"p":"R","c":"b","x":0.04,"y":6.0},{"p":"R","c":"b","x":0.06,"y":5.8},{"p":"R","c":"b","x":0.08,"y":5.4},{"p":"R","c":"b","x":0.1,"y":4.9},{"p":"R","c":"b","x":0.12,"y":4.2},{"p":"R","c":"b","x":0.14,"y":3.5},{"p":"R","c":"b","x":0.16,"y":2.7},{"p":"R","c":"b","x":0.18,"y":2.0},{"p":"R","c":"b","x":0.2,"y":1.4},
{"p":"R","c":"r","x":-0.1,"y":0.1},{"p":"R","c":"r","x":-0.09,"y":0.2},{"p":"R","c":"r","x":-0.08,"y":0.4},{"p":"R","c":"r","x":-0.075,"y":0.6},{"p":"R","c":"r","x":-0.07,"y":0.9},{"p":"R","c":"r","x":-0.065,"y":1.4},{"p":"R","c":"r","x":-0.06,"y":2.2},{"p":"R","c":"r","x":-0.055,"y":3.5},{"p":"R","c":"r","x":-0.05,"y":6},{"p":"R","c":"r","x":-0.045,"y":9.5},{"p":"R","c":"r","x":-0.04,"y":15},{"p":"R","c":"r","x":-0.035,"y":22},{"p":"R","c":"r","x":-0.03,"y":32},{"p":"R","c":"r","x":-0.025,"y":45},{"p":"R","c":"r","x":-0.02,"y":60},{"p":"R","c":"r","x":-0.015,"y":77.5},{"p":"R","c":"r","x":-0.01,"y":90},{"p":"R","c":"r","x":-0.005,"y":98},{"p":"R","c":"r","x":-0.0026,"y":98.8},{"p":"R","c":"r","x":0,"y":97.5},{"p":"R","c":"r","x":0.005,"y":90.5},{"p":"R","c":"r","x":0.01,"y":77},{"p":"R","c":"r","x":0.015,"y":61},{"p":"R","c":"r","x":0.02,"y":44},{"p":"R","c":"r","x":0.025,"y":30},{"p":"R","c":"r","x":0.03,"y":18.5},{"p":"R","c":"r","x":0.035,"y":10.5},{"p":"R","c":"r","x":0.04,"y":5.8},{"p":"R","c":"r","x":0.045,"y":3},{"p":"R","c":"r","x":0.05,"y":1.6},{"p":"R","c":"r","x":0.055,"y":0.8},{"p":"R","c":"r","x":0.06,"y":0.4},{"p":"R","c":"r","x":0.07,"y":0.1},{"p":"R","c":"r","x":0.2,"y":0},
{"p":"R","c":"g","x":-0.1,"y":0.1},{"p":"R","c":"g","x":-0.08,"y":0.2},{"p":"R","c":"g","x":-0.06,"y":0.4},{"p":"R","c":"g","x":-0.05,"y":0.6},{"p":"R","c":"g","x":-0.045,"y":0.8},{"p":"R","c":"g","x":-0.04,"y":1.3},{"p":"R","c":"g","x":-0.035,"y":2.1},{"p":"R","c":"g","x":-0.03,"y":3.2},{"p":"R","c":"g","x":-0.025,"y":5.2},{"p":"R","c":"g","x":-0.02,"y":9.5},{"p":"R","c":"g","x":-0.015,"y":18.5},{"p":"R","c":"g","x":-0.01,"y":32},{"p":"R","c":"g","x":-0.005,"y":49.7},{"p":"R","c":"g","x":0,"y":67.5},{"p":"R","c":"g","x":0.005,"y":87.5},{"p":"R","c":"g","x":0.01,"y":99},{"p":"R","c":"g","x":0.015,"y":105.5},{"p":"R","c":"g","x":0.0174,"y":107.8},{"p":"R","c":"g","x":0.02,"y":106},{"p":"R","c":"g","x":0.025,"y":96},{"p":"R","c":"g","x":0.03,"y":79},{"p":"R","c":"g","x":0.035,"y":60.5},{"p":"R","c":"g","x":0.04,"y":41.8},{"p":"R","c":"g","x":0.045,"y":26.6},{"p":"R","c":"g","x":0.05,"y":15.6},{"p":"R","c":"g","x":0.055,"y":9.3},{"p":"R","c":"g","x":0.06,"y":5.8},{"p":"R","c":"g","x":0.065,"y":3.5},{"p":"R","c":"g","x":0.07,"y":2},{"p":"R","c":"g","x":0.075,"y":1.2},{"p":"R","c":"g","x":0.08,"y":0.7},{"p":"R","c":"g","x":0.09,"y":0.3},{"p":"R","c":"g","x":0.2,"y":0.1}
]
},
"hconcat": [
{
"width": 383, "height": 384,
"resolve": {"axis": {"x": "independent", "y": "independent"}},
"layer": [
{"data": {"name": "pts"}, "transform": [{"filter": "datum.p === 'L'"}],
 "mark": {"type": "errorbar", "ticks": false, "color": "#444", "thickness": 1.2},
 "encoding": {
  "x": {"field": "x", "type": "quantitative", "scale": {"domain": [-0.1, 0.2], "nice": false, "zero": false}, "axis": null},
  "y": {"field": "y", "type": "quantitative", "scale": {"domain": [0, 373], "nice": false, "zero": false}, "axis": null},
  "yError": {"field": "e"}}},
{"data": {"name": "pts"}, "transform": [{"filter": "datum.p === 'L'"}],
 "mark": {"type": "point", "shape": "circle", "filled": false, "size": 90, "strokeWidth": 1.2, "opacity": 1},
 "encoding": {
  "x": {"field": "x", "type": "quantitative", "scale": {"domain": [-0.1, 0.2], "nice": false, "zero": false},
        "axis": {"orient": "bottom", "values": [-0.1, 0, 0.1, 0.2], "format": ".1~f", "labelExpr": "replace(datum.label, '\u2212', '-')", "ticks": false, "domain": false, "grid": false, "title": null, "labelFont": "Liberation Sans", "labelFontStyle": "italic", "labelFontSize": 30, "labelColor": "#000", "labelPadding": 16, "labelFlush": false, "labelOverlap": false}},
  "y": {"field": "y", "type": "quantitative", "scale": {"domain": [0, 373], "nice": false, "zero": false},
        "axis": {"orient": "left", "values": [0, 100, 200, 300], "ticks": false, "domain": false, "grid": false, "title": null, "labelFont": "Liberation Sans", "labelFontStyle": "italic", "labelFontSize": 30, "labelColor": "#000", "labelPadding": 14, "labelFlush": false, "labelOverlap": false}},
  "color": {"field": "s", "type": "nominal", "scale": {"domain": ["k", "r", "g", "b"], "range": ["#000000", "#ff0000", "#00ff00", "#0000ff"]}, "legend": null}}},
{"data": {"name": "crv"}, "transform": [{"filter": "datum.p === 'L'"}],
 "mark": {"type": "line", "interpolate": "monotone", "strokeWidth": 2.5},
 "encoding": {
  "x": {"field": "x", "type": "quantitative", "scale": {"domain": [-0.1, 0.2], "nice": false, "zero": false},
        "axis": {"orient": "bottom", "values": [-0.1, 0, 0.1, 0.2], "labels": false, "domain": false, "grid": false, "title": null, "ticks": true, "tickSize": -12, "tickColor": "#000", "tickWidth": 1.2}},
  "y": {"field": "y", "type": "quantitative", "scale": {"domain": [0, 373], "nice": false, "zero": false},
        "axis": {"orient": "left", "values": [0, 100, 200, 300], "labels": false, "domain": false, "grid": false, "title": null, "ticks": true, "tickSize": -12, "tickColor": "#000", "tickWidth": 1.2}},
  "color": {"field": "c", "type": "nominal", "scale": {"domain": ["k", "r", "g", "b"], "range": ["#000000", "#ff0000", "#00ff00", "#0000ff"]}, "legend": null}}},
{"data": {"values": [{}]},
 "mark": {"type": "rect", "fill": "#222"},
 "encoding": {
  "x": {"datum": -0.1746, "type": "quantitative", "scale": {"domain": [-0.1, 0.2], "nice": false, "zero": false}, "axis": null},
  "x2": {"datum": 0.0222},
  "y": {"datum": 379.8, "type": "quantitative", "scale": {"domain": [0, 373], "nice": false, "zero": false}, "axis": null},
  "y2": {"datum": 354.8}}},
{"data": {"values": [{}]},
 "mark": {"type": "rect", "fill": "#f0f0f0", "stroke": "#000", "strokeWidth": 1},
 "encoding": {
  "x": {"datum": -0.1762, "type": "quantitative", "scale": {"domain": [-0.1, 0.2], "nice": false, "zero": false}, "axis": null},
  "x2": {"datum": 0.0206},
  "y": {"datum": 381.7, "type": "quantitative", "scale": {"domain": [0, 373], "nice": false, "zero": false}, "axis": null},
  "y2": {"datum": 356.7}}},
{"data": {"values": [{}]},
 "mark": {"type": "text", "text": "negative helicity bin 5", "font": "Liberation Sans", "fontWeight": "bold", "fontSize": 19.5, "align": "center", "baseline": "alphabetic", "color": "#000"},
 "encoding": {
  "x": {"datum": -0.0769, "type": "quantitative", "scale": {"domain": [-0.1, 0.2], "nice": false, "zero": false}, "axis": null},
  "y": {"datum": 362.5, "type": "quantitative", "scale": {"domain": [0, 373], "nice": false, "zero": false}, "axis": null}}},
{"data": {"values": [{}]},
 "mark": {"type": "text", "text": "1.1<Q\u00b2<1.4", "font": "Liberation Sans", "fontStyle": "italic", "fontSize": 26, "align": "left", "baseline": "alphabetic", "color": "#000"},
 "encoding": {
  "x": {"datum": 0.0613, "type": "quantitative", "scale": {"domain": [-0.1, 0.2], "nice": false, "zero": false},
        "axis": {"orient": "bottom", "values": [-0.08, -0.06, -0.04, -0.02, 0.02, 0.04, 0.06, 0.08, 0.12, 0.14, 0.16, 0.18], "labels": false, "domain": false, "grid": false, "title": null, "ticks": true, "tickSize": -6, "tickColor": "#000", "tickWidth": 1.2}},
  "y": {"datum": 287.8, "type": "quantitative", "scale": {"domain": [0, 373], "nice": false, "zero": false},
        "axis": {"orient": "left", "values": [20, 40, 60, 80, 120, 140, 160, 180, 220, 240, 260, 280, 320, 340, 360], "labels": false, "domain": false, "grid": false, "title": null, "ticks": true, "tickSize": -6, "tickColor": "#000", "tickWidth": 1.2}}}},
{"data": {"values": [{}]},
 "mark": {"type": "text", "text": "ep", "font": "Liberation Sans", "fontStyle": "italic", "fontSize": 26, "align": "left", "baseline": "alphabetic", "color": "#000"},
 "encoding": {
  "x": {"datum": 0.0613, "type": "quantitative", "scale": {"domain": [-0.1, 0.2], "nice": false, "zero": false}, "axis": null},
  "y": {"datum": 240.2, "type": "quantitative", "scale": {"domain": [0, 373], "nice": false, "zero": false}, "axis": null}}},
{"data": {"values": [{}]},
 "mark": {"type": "text", "text": "\u27f6", "font": "DejaVu Sans", "fontSize": 17, "dx": 28, "dy": -1, "align": "left", "baseline": "alphabetic", "color": "#000"},
 "encoding": {
  "x": {"datum": 0.0613, "type": "quantitative", "scale": {"domain": [-0.1, 0.2], "nice": false, "zero": false}, "axis": null},
  "y": {"datum": 240.2, "type": "quantitative", "scale": {"domain": [0, 373], "nice": false, "zero": false}, "axis": null}}},
{"data": {"values": [{}]},
 "mark": {"type": "text", "text": "ep", "font": "Liberation Sans", "fontStyle": "italic", "fontSize": 26, "dx": 63, "align": "left", "baseline": "alphabetic", "color": "#000"},
 "encoding": {
  "x": {"datum": 0.0613, "type": "quantitative", "scale": {"domain": [-0.1, 0.2], "nice": false, "zero": false}, "axis": null},
  "y": {"datum": 240.2, "type": "quantitative", "scale": {"domain": [0, 373], "nice": false, "zero": false}, "axis": null}}},
{"data": {"values": [{}]},
 "mark": {"type": "text", "text": "\u03b3", "font": "DejaVu Sans", "fontSize": 25, "dx": 100, "align": "left", "baseline": "alphabetic", "color": "#000"},
 "encoding": {
  "x": {"datum": 0.0613, "type": "quantitative", "scale": {"domain": [-0.1, 0.2], "nice": false, "zero": false}, "axis": null},
  "y": {"datum": 240.2, "type": "quantitative", "scale": {"domain": [0, 373], "nice": false, "zero": false}, "axis": null}}},
{"data": {"values": [{}]},
 "mark": {"type": "text", "text": "N", "font": "Liberation Sans", "fontStyle": "italic", "fontSize": 26, "align": "left", "baseline": "alphabetic", "color": "#000"},
 "encoding": {
  "x": {"datum": 0.0613, "type": "quantitative", "scale": {"domain": [-0.1, 0.2], "nice": false, "zero": false}, "axis": null},
  "y": {"datum": 191.7, "type": "quantitative", "scale": {"domain": [0, 373], "nice": false, "zero": false}, "axis": null}}},
{"data": {"values": [{}]},
 "mark": {"type": "text", "text": "\u03b3", "font": "DejaVu Sans", "fontSize": 17, "dx": 19, "dy": 7, "align": "left", "baseline": "alphabetic", "color": "#000"},
 "encoding": {
  "x": {"datum": 0.0613, "type": "quantitative", "scale": {"domain": [-0.1, 0.2], "nice": false, "zero": false}, "axis": null},
  "y": {"datum": 191.7, "type": "quantitative", "scale": {"domain": [0, 373], "nice": false, "zero": false}, "axis": null}}},
{"data": {"values": [{}]},
 "mark": {"type": "text", "text": "= 2339 \u00b1 82", "font": "Liberation Sans", "fontStyle": "italic", "fontSize": 26, "dx": 35, "align": "left", "baseline": "alphabetic", "color": "#000"},
 "encoding": {
  "x": {"datum": 0.0613, "type": "quantitative", "scale": {"domain": [-0.1, 0.2], "nice": false, "zero": false}, "axis": null},
  "y": {"datum": 191.7, "type": "quantitative", "scale": {"domain": [0, 373], "nice": false, "zero": false}, "axis": null}}},
{"data": {"values": [{}]},
 "mark": {"type": "text", "text": "N = 1187 \u00b1 75", "font": "Liberation Sans", "fontStyle": "italic", "fontSize": 26, "align": "left", "baseline": "alphabetic", "color": "#000"},
 "encoding": {
  "x": {"datum": 0.0613, "type": "quantitative", "scale": {"domain": [-0.1, 0.2], "nice": false, "zero": false}, "axis": null},
  "y": {"datum": 143.1, "type": "quantitative", "scale": {"domain": [0, 373], "nice": false, "zero": false}, "axis": null}}},
{"data": {"values": [{}]},
 "mark": {"type": "text", "text": "\u03c7", "font": "DejaVu Sans", "fontSize": 25, "align": "left", "baseline": "alphabetic", "color": "#000"},
 "encoding": {
  "x": {"datum": 0.0613, "type": "quantitative", "scale": {"domain": [-0.1, 0.2], "nice": false, "zero": false}, "axis": null},
  "y": {"datum": 95.1, "type": "quantitative", "scale": {"domain": [0, 373], "nice": false, "zero": false}, "axis": null}}},
{"data": {"values": [{}]},
 "mark": {"type": "text", "text": "\u00b2 = 2.42", "font": "Liberation Sans", "fontStyle": "italic", "fontSize": 26, "dx": 15, "align": "left", "baseline": "alphabetic", "color": "#000"},
 "encoding": {
  "x": {"datum": 0.0613, "type": "quantitative", "scale": {"domain": [-0.1, 0.2], "nice": false, "zero": false}, "axis": null},
  "y": {"datum": 95.1, "type": "quantitative", "scale": {"domain": [0, 373], "nice": false, "zero": false}, "axis": null}}}
]
},
{
"width": 384, "height": 384,
"resolve": {"axis": {"x": "independent", "y": "independent"}},
"layer": [
{"data": {"name": "pts"}, "transform": [{"filter": "datum.p === 'R'"}],
 "mark": {"type": "errorbar", "ticks": false, "color": "#444", "thickness": 1.2},
 "encoding": {
  "x": {"field": "x", "type": "quantitative", "scale": {"domain": [-0.1, 0.2], "nice": false, "zero": false}, "axis": null},
  "y": {"field": "y", "type": "quantitative", "scale": {"domain": [0, 218], "nice": false, "zero": false}, "axis": null},
  "yError": {"field": "e"}}},
{"data": {"name": "pts"}, "transform": [{"filter": "datum.p === 'R'"}],
 "mark": {"type": "point", "shape": "circle", "filled": false, "size": 90, "strokeWidth": 1.2, "opacity": 1},
 "encoding": {
  "x": {"field": "x", "type": "quantitative", "scale": {"domain": [-0.1, 0.2], "nice": false, "zero": false},
        "axis": {"orient": "bottom", "values": [-0.1, 0, 0.1, 0.2], "format": ".1~f", "labelExpr": "replace(datum.label, '\u2212', '-')", "ticks": false, "domain": false, "grid": false, "title": null, "labelFont": "Liberation Sans", "labelFontStyle": "italic", "labelFontSize": 30, "labelColor": "#000", "labelPadding": 16, "labelFlush": false, "labelOverlap": false}},
  "y": {"field": "y", "type": "quantitative", "scale": {"domain": [0, 218], "nice": false, "zero": false},
        "axis": {"orient": "left", "values": [0, 50, 100, 150, 200], "ticks": false, "domain": false, "grid": false, "title": null, "labelFont": "Liberation Sans", "labelFontStyle": "italic", "labelFontSize": 30, "labelColor": "#000", "labelPadding": 14, "labelFlush": false, "labelOverlap": false}},
  "color": {"field": "s", "type": "nominal", "scale": {"domain": ["k", "r", "g", "b"], "range": ["#000000", "#ff0000", "#00ff00", "#0000ff"]}, "legend": null}}},
{"data": {"name": "crv"}, "transform": [{"filter": "datum.p === 'R'"}],
 "mark": {"type": "line", "interpolate": "monotone", "strokeWidth": 2.5},
 "encoding": {
  "x": {"field": "x", "type": "quantitative", "scale": {"domain": [-0.1, 0.2], "nice": false, "zero": false},
        "axis": {"orient": "bottom", "values": [-0.1, 0, 0.1, 0.2], "labels": false, "domain": false, "grid": false, "title": null, "ticks": true, "tickSize": -12, "tickColor": "#000", "tickWidth": 1.2}},
  "y": {"field": "y", "type": "quantitative", "scale": {"domain": [0, 218], "nice": false, "zero": false},
        "axis": {"orient": "left", "values": [0, 50, 100, 150, 200], "labels": false, "domain": false, "grid": false, "title": null, "ticks": true, "tickSize": -12, "tickColor": "#000", "tickWidth": 1.2}},
  "color": {"field": "c", "type": "nominal", "scale": {"domain": ["k", "r", "g", "b"], "range": ["#000000", "#ff0000", "#00ff00", "#0000ff"]}, "legend": null}}},
{"data": {"values": [{}]},
 "mark": {"type": "rect", "fill": "#222"},
 "encoding": {
  "x": {"datum": -0.1744, "type": "quantitative", "scale": {"domain": [-0.1, 0.2], "nice": false, "zero": false}, "axis": null},
  "x2": {"datum": 0.0188},
  "y": {"datum": 222.0, "type": "quantitative", "scale": {"domain": [0, 218], "nice": false, "zero": false}, "axis": null},
  "y2": {"datum": 207.2}}},
{"data": {"values": [{}]},
 "mark": {"type": "rect", "fill": "#f0f0f0", "stroke": "#000", "strokeWidth": 1},
 "encoding": {
  "x": {"datum": -0.1760, "type": "quantitative", "scale": {"domain": [-0.1, 0.2], "nice": false, "zero": false}, "axis": null},
  "x2": {"datum": 0.0172},
  "y": {"datum": 223.1, "type": "quantitative", "scale": {"domain": [0, 218], "nice": false, "zero": false}, "axis": null},
  "y2": {"datum": 208.3}}},
{"data": {"values": [{}]},
 "mark": {"type": "text", "text": "positive helicity bin 5", "font": "Liberation Sans", "fontWeight": "bold", "fontSize": 19.5, "align": "center", "baseline": "alphabetic", "color": "#000"},
 "encoding": {
  "x": {"datum": -0.0799, "type": "quantitative", "scale": {"domain": [-0.1, 0.2], "nice": false, "zero": false}, "axis": null},
  "y": {"datum": 211.9, "type": "quantitative", "scale": {"domain": [0, 218], "nice": false, "zero": false}, "axis": null}}},
{"data": {"values": [{}]},
 "mark": {"type": "text", "text": "1.1<Q\u00b2<1.4", "font": "Liberation Sans", "fontStyle": "italic", "fontSize": 26, "align": "left", "baseline": "alphabetic", "color": "#000"},
 "encoding": {
  "x": {"datum": 0.0615, "type": "quantitative", "scale": {"domain": [-0.1, 0.2], "nice": false, "zero": false},
        "axis": {"orient": "bottom", "values": [-0.08, -0.06, -0.04, -0.02, 0.02, 0.04, 0.06, 0.08, 0.12, 0.14, 0.16, 0.18], "labels": false, "domain": false, "grid": false, "title": null, "ticks": true, "tickSize": -6, "tickColor": "#000", "tickWidth": 1.2}},
  "y": {"datum": 168.2, "type": "quantitative", "scale": {"domain": [0, 218], "nice": false, "zero": false},
        "axis": {"orient": "left", "values": [10, 20, 30, 40, 60, 70, 80, 90, 110, 120, 130, 140, 160, 170, 180, 190, 210], "labels": false, "domain": false, "grid": false, "title": null, "ticks": true, "tickSize": -6, "tickColor": "#000", "tickWidth": 1.2}}}},
{"data": {"values": [{}]},
 "mark": {"type": "text", "text": "ep", "font": "Liberation Sans", "fontStyle": "italic", "fontSize": 26, "align": "left", "baseline": "alphabetic", "color": "#000"},
 "encoding": {
  "x": {"datum": 0.0615, "type": "quantitative", "scale": {"domain": [-0.1, 0.2], "nice": false, "zero": false}, "axis": null},
  "y": {"datum": 140.4, "type": "quantitative", "scale": {"domain": [0, 218], "nice": false, "zero": false}, "axis": null}}},
{"data": {"values": [{}]},
 "mark": {"type": "text", "text": "\u27f6", "font": "DejaVu Sans", "fontSize": 17, "dx": 28, "dy": -1, "align": "left", "baseline": "alphabetic", "color": "#000"},
 "encoding": {
  "x": {"datum": 0.0615, "type": "quantitative", "scale": {"domain": [-0.1, 0.2], "nice": false, "zero": false}, "axis": null},
  "y": {"datum": 140.4, "type": "quantitative", "scale": {"domain": [0, 218], "nice": false, "zero": false}, "axis": null}}},
{"data": {"values": [{}]},
 "mark": {"type": "text", "text": "ep", "font": "Liberation Sans", "fontStyle": "italic", "fontSize": 26, "dx": 63, "align": "left", "baseline": "alphabetic", "color": "#000"},
 "encoding": {
  "x": {"datum": 0.0615, "type": "quantitative", "scale": {"domain": [-0.1, 0.2], "nice": false, "zero": false}, "axis": null},
  "y": {"datum": 140.4, "type": "quantitative", "scale": {"domain": [0, 218], "nice": false, "zero": false}, "axis": null}}},
{"data": {"values": [{}]},
 "mark": {"type": "text", "text": "\u03b3", "font": "DejaVu Sans", "fontSize": 25, "dx": 100, "align": "left", "baseline": "alphabetic", "color": "#000"},
 "encoding": {
  "x": {"datum": 0.0615, "type": "quantitative", "scale": {"domain": [-0.1, 0.2], "nice": false, "zero": false}, "axis": null},
  "y": {"datum": 140.4, "type": "quantitative", "scale": {"domain": [0, 218], "nice": false, "zero": false}, "axis": null}}},
{"data": {"values": [{}]},
 "mark": {"type": "text", "text": "N", "font": "Liberation Sans", "fontStyle": "italic", "fontSize": 26, "align": "left", "baseline": "alphabetic", "color": "#000"},
 "encoding": {
  "x": {"datum": 0.0615, "type": "quantitative", "scale": {"domain": [-0.1, 0.2], "nice": false, "zero": false}, "axis": null},
  "y": {"datum": 112.0, "type": "quantitative", "scale": {"domain": [0, 218], "nice": false, "zero": false}, "axis": null}}},
{"data": {"values": [{}]},
 "mark": {"type": "text", "text": "\u03b3", "font": "DejaVu Sans", "fontSize": 17, "dx": 19, "dy": 7, "align": "left", "baseline": "alphabetic", "color": "#000"},
 "encoding": {
  "x": {"datum": 0.0615, "type": "quantitative", "scale": {"domain": [-0.1, 0.2], "nice": false, "zero": false}, "axis": null},
  "y": {"datum": 112.0, "type": "quantitative", "scale": {"domain": [0, 218], "nice": false, "zero": false}, "axis": null}}},
{"data": {"values": [{}]},
 "mark": {"type": "text", "text": "= 959 \u00b1 59", "font": "Liberation Sans", "fontStyle": "italic", "fontSize": 26, "dx": 35, "align": "left", "baseline": "alphabetic", "color": "#000"},
 "encoding": {
  "x": {"datum": 0.0615, "type": "quantitative", "scale": {"domain": [-0.1, 0.2], "nice": false, "zero": false}, "axis": null},
  "y": {"datum": 112.0, "type": "quantitative", "scale": {"domain": [0, 218], "nice": false, "zero": false}, "axis": null}}},
{"data": {"values": [{}]},
 "mark": {"type": "text", "text": "N = 1052 \u00b1 60", "font": "Liberation Sans", "fontStyle": "italic", "fontSize": 26, "align": "left", "baseline": "alphabetic", "color": "#000"},
 "encoding": {
  "x": {"datum": 0.0615, "type": "quantitative", "scale": {"domain": [-0.1, 0.2], "nice": false, "zero": false}, "axis": null},
  "y": {"datum": 83.7, "type": "quantitative", "scale": {"domain": [0, 218], "nice": false, "zero": false}, "axis": null}}},
{"data": {"values": [{}]},
 "mark": {"type": "text", "text": "\u03c7", "font": "DejaVu Sans", "fontSize": 25, "align": "left", "baseline": "alphabetic", "color": "#000"},
 "encoding": {
  "x": {"datum": 0.0615, "type": "quantitative", "scale": {"domain": [-0.1, 0.2], "nice": false, "zero": false}, "axis": null},
  "y": {"datum": 55.6, "type": "quantitative", "scale": {"domain": [0, 218], "nice": false, "zero": false}, "axis": null}}},
{"data": {"values": [{}]},
 "mark": {"type": "text", "text": "\u00b2 = 1.51", "font": "Liberation Sans", "fontStyle": "italic", "fontSize": 26, "dx": 15, "align": "left", "baseline": "alphabetic", "color": "#000"},
 "encoding": {
  "x": {"datum": 0.0615, "type": "quantitative", "scale": {"domain": [-0.1, 0.2], "nice": false, "zero": false}, "axis": null},
  "y": {"datum": 55.6, "type": "quantitative", "scale": {"domain": [0, 218], "nice": false, "zero": false}, "axis": null}}}
]
}
]
}
